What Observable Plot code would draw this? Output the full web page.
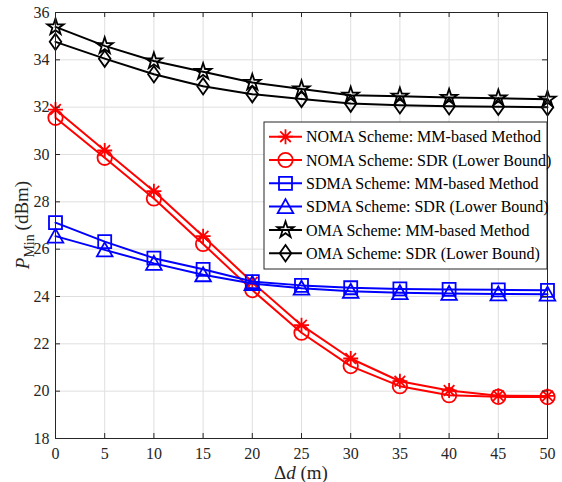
<!DOCTYPE html>
<html><head><meta charset="utf-8">
<script src="https://cdn.jsdelivr.net/npm/d3@7"></script>
<script src="https://cdn.jsdelivr.net/npm/@observablehq/plot@0.6"></script>
<style>body{margin:0;background:#fff;}</style>
</head><body><div id="chart"></div>
<script>
const distances = [0, 5, 10, 15, 20, 25, 30, 35, 40, 45, 50];
const nomaMM  = [31.90, 30.17, 28.45, 26.55, 24.60, 22.79, 21.38, 20.42, 20.03, 19.81, 19.80];
const nomaSDR = [31.55, 29.86, 28.14, 26.22, 24.27, 22.47, 21.06, 20.21, 19.83, 19.76, 19.75];
const sdmaMM  = [27.12, 26.32, 25.62, 25.15, 24.63, 24.47, 24.37, 24.32, 24.30, 24.28, 24.26];
const sdmaSDR = [26.55, 25.97, 25.40, 24.92, 24.55, 24.35, 24.22, 24.16, 24.13, 24.11, 24.10];
const omaMM   = [35.39, 34.59, 33.95, 33.50, 33.04, 32.77, 32.50, 32.46, 32.41, 32.38, 32.33];
const omaSDR  = [34.76, 34.05, 33.39, 32.88, 32.55, 32.35, 32.15, 32.08, 32.04, 32.02, 32.00];
const xTicks = [0, 5, 10, 15, 20, 25, 30, 35, 40, 45, 50];
const yTicks = [18, 20, 22, 24, 26, 28, 30, 32, 34, 36];
const seriesNames = [
  "NOMA Scheme: MM-based Method",
  "NOMA Scheme: SDR (Lower Bound)",
  "SDMA Scheme: MM-based Method",
  "SDMA Scheme: SDR (Lower Bound)",
  "OMA Scheme: MM-based Method",
  "OMA Scheme: SDR (Lower Bound)"
];
const seriesValues = [nomaMM, nomaSDR, sdmaMM, sdmaSDR, omaMM, omaSDR];
const seriesColors = ["#ff0000", "#ff0000", "#0000ff", "#0000ff", "#000000", "#000000"];

// MATLAB-like marker shapes (absolute pixel sizes)
const symAsterisk = {draw(c){const R=7.5;for(let i=0;i<4;i++){const a=i*Math.PI/4,dx=R*Math.cos(a),dy=R*Math.sin(a);c.moveTo(-dx,-dy);c.lineTo(dx,dy);}}};
const symCircle = {draw(c){const R=7.2;c.moveTo(R,0);c.arc(0,0,R,0,2*Math.PI);c.closePath();}};
const symSquare = {draw(c){const h=6.5;c.rect(-h,-h,2*h,2*h);}};
const symTriangle = {draw(c){c.moveTo(0,-7.5);c.lineTo(7.8,6.5);c.lineTo(-7.8,6.5);c.closePath();}};
const symStar = {draw(c){const R=8.6,r=R*0.382;for(let i=0;i<10;i++){const a=-Math.PI/2+i*Math.PI/5,rr=i%2?r:R;const x=rr*Math.cos(a),y=rr*Math.sin(a);if(i===0)c.moveTo(x,y);else c.lineTo(x,y);}c.closePath();}};
const symDiamond = {draw(c){c.moveTo(0,-8.2);c.lineTo(5.8,0);c.lineTo(0,8.2);c.lineTo(-5.8,0);c.closePath();}};
const seriesSymbols = [symAsterisk, symCircle, symSquare, symTriangle, symStar, symDiamond];

const W = 562, H = 482, mL = 55, mR = 15, mT = 12, mB = 44;
const innerW = W - mL - mR, innerH = H - mT - mB;
const axisColor = "#262626";
const font = "Liberation Serif";

const marks = [
  Plot.ruleX(xTicks, {x: d => d, stroke: "#dfdfdf", strokeWidth: 1}),
  Plot.ruleY(yTicks, {y: d => d, stroke: "#dfdfdf", strokeWidth: 1}),
];
seriesValues.forEach((vals, i) => {
  const data = distances.map((d, j) => ({d, v: vals[j]}));
  marks.push(Plot.line(data, {x: "d", y: "v", stroke: seriesColors[i], strokeWidth: 2}));
  marks.push(Plot.dot(data, {x: "d", y: "v", r: 1, symbol: seriesSymbols[i], stroke: seriesColors[i], fill: "none", strokeWidth: 1.8}));
});
marks.push(
  Plot.frame({stroke: axisColor, strokeWidth: 1}),
  Plot.tickX(xTicks, {x: d => d, insetTop: innerH - 5, stroke: axisColor}),
  Plot.tickX(xTicks, {x: d => d, insetBottom: innerH - 5, stroke: axisColor}),
  Plot.tickY(yTicks, {y: d => d, insetRight: innerW - 5, stroke: axisColor}),
  Plot.tickY(yTicks, {y: d => d, insetLeft: innerW - 5, stroke: axisColor}),
  Plot.axisX(xTicks, {tickSize: 0, tickPadding: 9, label: null, fontSize: 16, fontFamily: font, fill: axisColor}),
  Plot.axisY(yTicks, {tickSize: 0, tickPadding: 6, label: null, fontSize: 16, fontFamily: font, fill: axisColor}),
  // legend box inside plot (upper-right region)
  (index, scales, values, dims) => {
    const right = dims.width - dims.marginRight;
    const bw = 283, bh = 147;
    const x0 = right - bw, y0 = dims.marginTop + 110;
    const g = d3.create("svg:g");
    g.append("rect").attr("x", x0).attr("y", y0).attr("width", bw).attr("height", bh)
      .attr("fill", "white").attr("stroke", axisColor).attr("stroke-width", 1);
    seriesNames.forEach((name, i) => {
      const cy = y0 + 14.7 + i * 23.3;
      g.append("line").attr("x1", x0 + 5).attr("x2", x0 + 38).attr("y1", cy).attr("y2", cy)
        .attr("stroke", seriesColors[i]).attr("stroke-width", 2);
      g.append("path").attr("transform", `translate(${x0 + 21.5},${cy})`)
        .attr("d", d3.symbol(seriesSymbols[i], 64)())
        .attr("fill", "none").attr("stroke", seriesColors[i]).attr("stroke-width", 1.8);
      g.append("text").attr("x", x0 + 42).attr("y", cy).attr("dy", "0.35em")
        .attr("text-anchor", "start")
        .attr("font-size", 16).attr("font-family", font).attr("fill", "#000")
        .text(name);
    });
    return g.node();
  }
);

const chart = Plot.plot({
  width: W, height: H,
  marginLeft: mL, marginRight: mR, marginTop: mT, marginBottom: mB,
  x: {domain: [0, 50]},
  y: {domain: [18, 36]},
  style: {fontFamily: font, fontSize: "16px", color: axisColor, background: "#fff"},
  marks
});

const svg = d3.select(chart);
// y axis title: P_Min (dBm)
const yt = svg.append("text")
  .attr("transform", `translate(22,${mT + innerH / 2}) rotate(-90)`)
  .attr("text-anchor", "middle").attr("dy", "0.35em")
  .attr("font-family", font).attr("font-size", 19).attr("fill", axisColor);
yt.append("tspan").attr("font-style", "italic").text("P");
yt.append("tspan").attr("font-size", 14).attr("dy", "0.35em").text("Min");
yt.append("tspan").attr("dy", "-0.3em").text("\u2009(dBm)");
// x axis title: Δd (m)
const xt = svg.append("text")
  .attr("x", mL + innerW / 2).attr("y", 479)
  .attr("text-anchor", "middle")
  .attr("font-family", font).attr("font-size", 19).attr("fill", axisColor);
xt.append("tspan").text("\u0394");
xt.append("tspan").attr("font-style", "italic").text("d");
xt.append("tspan").text(" (m)");

document.getElementById("chart").appendChild(chart);
</script>
</body></html>
